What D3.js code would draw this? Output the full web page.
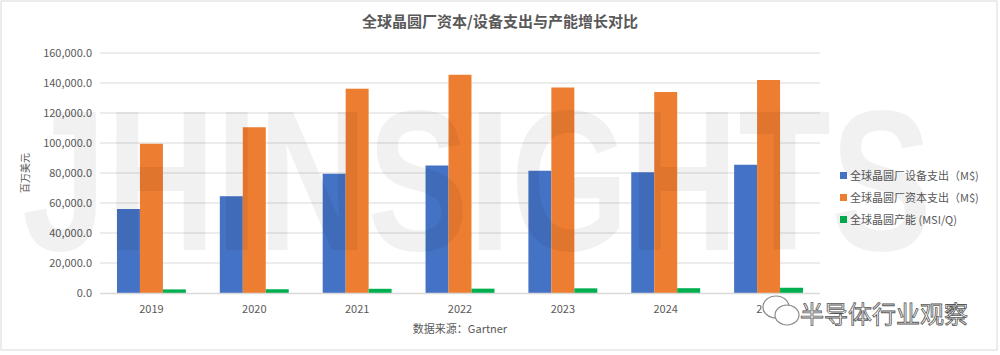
<!DOCTYPE html>
<html><head><meta charset="utf-8">
<script src="https://cdn.jsdelivr.net/npm/d3@7"></script>
<style>body{margin:0;background:#fff;}svg{display:block;font-family:"Noto Sans CJK SC","Noto Sans",sans-serif;}</style>
</head><body><svg id="c" width="1000" height="355"></svg>
<script>
const years = ["2019","2020","2021","2022","2023","2024","2025"];
const equipment = [56000, 64500, 79500, 85000, 81500, 80500, 85500];
const capex = [99500, 110500, 136200, 145500, 137000, 134000, 142000];
const capacity = [2400, 2500, 2800, 2900, 3100, 3200, 3500];
const seriesNames = ["全球晶圆厂设备支出（M$)", "全球晶圆厂资本支出（M$)", "全球晶圆产能 (MSI/Q)"];
const colors = ["#4472c4", "#ed7d31", "#00b050"];
const yTicks = [0, 20000, 40000, 60000, 80000, 100000, 120000, 140000, 160000];

const svg = d3.select("#c");
const L = 100, R = 820, T = 53, B = 293;
const x = d3.scaleBand().domain(years).range([L, R]).paddingInner(0.33).paddingOuter(0.165);
const xs = d3.scaleBand().domain([0,1,2]).range([0, x.bandwidth()]);
const y = d3.scaleLinear().domain([0, 160000]).range([B, T]);

// border
svg.append("rect").attr("x",1).attr("y",1).attr("width",996).attr("height",349).attr("fill","none").attr("stroke","#d9d9d9");

// title
svg.append("text").attr("x",500).attr("y",27).attr("text-anchor","middle").attr("font-size",15).attr("font-weight","bold").attr("fill","#595959").text("全球晶圆厂资本/设备支出与产能增长对比");

// grid
svg.append("g").selectAll("line").data(yTicks.filter(d=>d>0)).join("line")
  .attr("x1",L).attr("x2",R).attr("y1",d=>y(d)).attr("y2",d=>y(d)).attr("stroke","#d9d9d9").attr("stroke-width",1);

// y axis labels
const yAxis = d3.axisLeft(y).tickValues(yTicks).tickSize(0).tickPadding(8).tickFormat(d=>d3.format(",.1f")(d));
const ya = svg.append("g").attr("transform",`translate(${L},0)`).call(yAxis);
ya.select(".domain").remove();
ya.selectAll("text").attr("font-size",11).attr("fill","#595959").attr("font-family","'Noto Sans CJK SC',sans-serif");

// y title
svg.append("text").attr("transform","translate(29,173) rotate(-90)").attr("text-anchor","middle").attr("font-size",10).attr("fill","#595959").text("百万美元");

// bars
const data = [equipment, capex, capacity];
data.forEach((arr,i)=>{
  svg.append("g").selectAll("rect").data(arr).join("rect")
    .attr("x",(d,j)=>x(years[j])+xs(i)).attr("width",xs.bandwidth())
    .attr("y",d=>y(d)).attr("height",d=>B-y(d)).attr("fill",colors[i]);
});

// x axis
svg.append("line").attr("x1",L).attr("x2",R).attr("y1",B+0.5).attr("y2",B+0.5).attr("stroke","#d9d9d9").attr("stroke-width",1.5);
const xAxis = d3.axisBottom(x).tickSize(0).tickPadding(12);
const xa = svg.append("g").attr("transform",`translate(0,${B})`).call(xAxis);
xa.select(".domain").remove();
xa.selectAll("text").attr("font-size",11).attr("fill","#595959").attr("font-family","'Noto Sans CJK SC',sans-serif");

// source
svg.append("text").attr("x",460).attr("y",333).attr("text-anchor","middle").attr("font-size",11).attr("fill","#595959").text("数据来源：Gartner");

// legend
const lg = svg.append("g").selectAll("g").data(seriesNames).join("g").attr("transform",(d,i)=>`translate(840,${176+i*22})`);
lg.append("rect").attr("x",0).attr("y",-4).attr("width",7).attr("height",7).attr("fill",(d,i)=>colors[i]);
lg.append("text").attr("x",10).attr("y",4).attr("font-size",11).attr("fill","#595959").text(d=>d);

// watermark
svg.append("text").attr("x",22).attr("y",250).attr("font-size",200).attr("font-weight","bold").attr("font-family","'Liberation Sans',sans-serif")
  .attr("textLength",910).attr("lengthAdjust","spacingAndGlyphs").attr("fill","rgba(0,0,0,0.055)").style("pointer-events","none").text("JHINSIGHTS");

// wechat watermark
const wg = svg.append("g").attr("fill","none").attr("stroke","#8c8c8c").attr("stroke-width",1.2);
wg.append("ellipse").attr("cx",776).attr("cy",307).attr("rx",13).attr("ry",11).attr("fill","#fff");
wg.append("ellipse").attr("cx",787).attr("cy",315).attr("rx",12).attr("ry",10).attr("fill","#fff");
svg.append("text").attr("x",800).attr("y",323).attr("font-size",24).attr("fill","#fff").attr("stroke","#555").attr("stroke-width",0.8).text("半导体行业观察");
</script></body></html>
